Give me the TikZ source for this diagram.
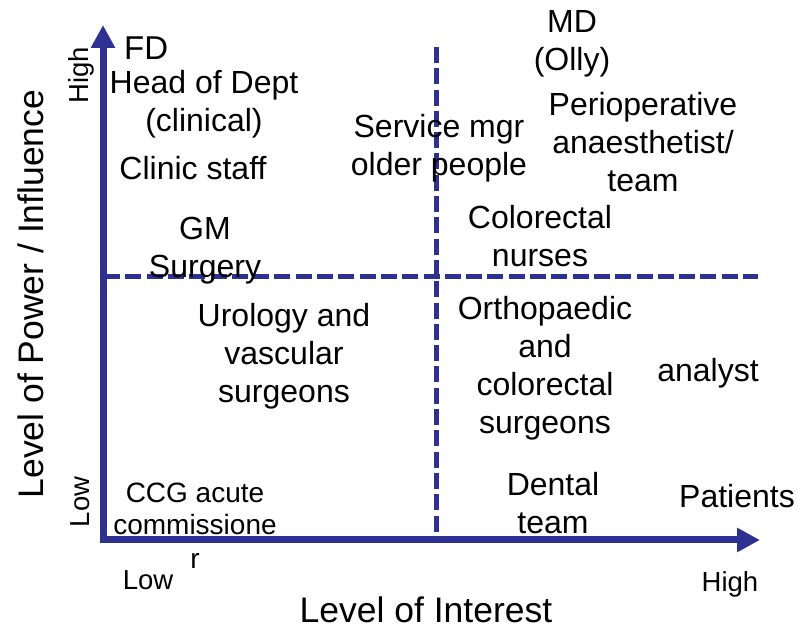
\documentclass[tikz,border=0pt]{standalone}
\usepackage{fontspec}
\setmainfont{Liberation Sans}
\usepackage{tikz}
\usepackage{xcolor}
\usetikzlibrary{arrows.meta}
\definecolor{axisblue}{RGB}{46,49,146}
\tikzset{
    axis-arrow/.style = {draw=axisblue, line width=7pt, -{Triangle[width=23pt,length=23pt]}},
    quad-line/.style = {draw=axisblue, line width=5pt, dash pattern=on 16pt off 5.3pt},
    stake-label/.style = {align=center, inner sep=0pt, font=\fontsize{32}{38}\selectfont},
    small-label/.style = {inner sep=0pt, font=\fontsize{27.5}{32}\selectfont},
    axis-title/.style = {inner sep=0pt, font=\fontsize{35.5}{40}\selectfont},
}

\begin{document}
\begin{tikzpicture}[x=1pt, y=1pt]
\useasboundingbox (0,0) rectangle (798,629);

\coordinate (origin) at (103,89);
\coordinate (ytip) at (103,604);
\coordinate (xtip) at (760,89);
\coordinate (mid-left) at (104,352);
\coordinate (mid-right) at (758,352);
\coordinate (mid-top) at (436,582);
\coordinate (mid-bottom) at (436,89);

\draw[quad-line] (mid-left) -- (mid-right);
\draw[quad-line] (mid-top) -- (mid-bottom);
\draw[axis-arrow] ([yshift=-3.5pt]origin) -- (ytip);
\draw[axis-arrow] ([xshift=-3.5pt]origin) -- (xtip);

\node[axis-title, anchor=base] (interest) at (426,6) {Level of Interest};
\node[axis-title, anchor=base, rotate=90] (power) at (43,335) {Level of Power / Influence};
\node[small-label, anchor=base] (x-low) at (148,39) {Low};
\node[small-label, anchor=base] (x-high) at (730,37) {High};
\node[small-label, anchor=base, rotate=90] (y-low) at (89,127) {Low};
\node[small-label, anchor=base, rotate=90] (y-high) at (88,554) {High};

\node[stake-label, anchor=base west, font=\fontsize{33}{38}\selectfont] (fd) at (124,569) {FD};
\node[stake-label] (head-dept) at (204,525) {Head of Dept\\(clinical)};
\node[stake-label, anchor=base] (clinic) at (193,449) {Clinic staff};
\node[stake-label] (gm) at (205,378) {GM\\Surgery};
\node[stake-label] (urology) at (284,273) {Urology and\\vascular\\surgeons};
\node[stake-label, font=\fontsize{28}{32}\selectfont] (ccg) at (195,103) {CCG acute\\commissione\\[2pt]r};

\node[stake-label] (md) at (572,585) {MD\\(Olly)};
\node[stake-label] (service) at (439,481) {Service mgr\\older people};
\node[stake-label] (periop) at (643,487) {Perioperative\\anaesthetist/\\team};
\node[stake-label] (nurses) at (540,393) {Colorectal\\nurses};
\node[stake-label] (ortho) at (545,261) {Orthopaedic\\and\\colorectal\\surgeons};
\node[stake-label, anchor=base] (analyst) at (708,247) {analyst};
\node[stake-label] (dental) at (553,126) {Dental\\team};
\node[stake-label, anchor=base] (patients) at (737,121) {Patients};
\end{tikzpicture}
\end{document}
